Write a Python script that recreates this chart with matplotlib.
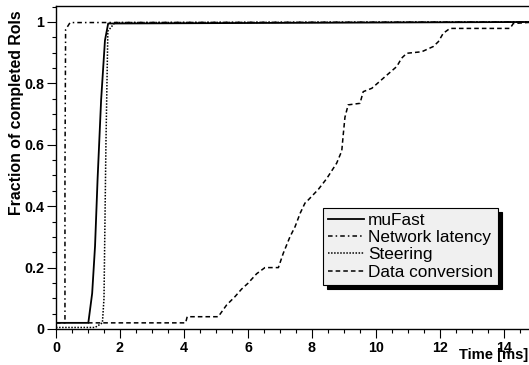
import matplotlib
matplotlib.use("Agg")
import matplotlib.pyplot as plt
from matplotlib.ticker import MultipleLocator, FixedFormatter, FixedLocator

plt.rcParams['font.family'] = ['Liberation Sans', 'DejaVu Sans']

# --- data ---
mufast_x = [0.0, 1.01, 1.13, 1.22, 1.30, 1.41, 1.53, 1.63, 15.0]
mufast_y = [0.02, 0.02, 0.116, 0.27, 0.49, 0.746, 0.94, 0.995, 1.0]

net_x = [0.0, 0.28, 0.28, 0.30, 0.44, 15.0]
net_y = [0.02, 0.02, 0.50, 0.975, 0.998, 1.0]

steer_x = [0.0, 1.22, 1.45, 1.50, 1.56, 1.62, 1.84, 15.0]
steer_y = [0.005, 0.005, 0.02, 0.10, 0.60, 0.97, 0.998, 1.0]

conv_x = [1.0, 4.05, 4.1, 5.07, 5.33, 5.59, 5.8, 6.0, 6.27, 6.53, 6.95, 7.1, 7.31,
          7.47, 7.63, 7.78, 7.88, 8.2, 8.46, 8.77, 8.93, 8.98, 9.03, 9.13, 9.5,
          9.6, 9.87, 10.23, 10.65, 10.8, 10.96, 11.43, 11.79, 11.95, 12.1, 12.31,
          14.19, 14.29, 15.0]
conv_y = [0.02, 0.02, 0.04, 0.04, 0.078, 0.105, 0.13, 0.149, 0.18, 0.20, 0.20, 0.246,
          0.30, 0.333, 0.377, 0.41, 0.42, 0.455, 0.49, 0.54, 0.58, 0.637, 0.69, 0.73,
          0.735, 0.773, 0.784, 0.817, 0.855, 0.882, 0.898, 0.903, 0.92, 0.936, 0.963,
          0.979, 0.979, 0.995, 1.0]

series_labels = ["muFast", "Network latency", "Steering", "Data conversion"]
x_ticks = [0, 2, 4, 6, 8, 10, 12, 14]
x_ticklabels = ["0", "2", "4", "6", "8", "10", "12", "14"]
y_ticks = [0, 0.2, 0.4, 0.6, 0.8, 1.0]
y_ticklabels = ["0", "0.2", "0.4", "0.6", "0.8", "1"]

W, H = 529, 365
fig = plt.figure(figsize=(W / 100, H / 100), dpi=100)
left, right, top, bottom = 56, 536, 6, 329
ax = fig.add_axes([left / W, (H - bottom) / H, (right - left) / W, (bottom - top) / H])
ax.set_xlim(0, 15)
ax.set_ylim(0, 1.052)

lw = 1.1
ax.plot(mufast_x, mufast_y, color='black', lw=1.3, ls='-', label=series_labels[0])
ax.plot(net_x, net_y, color='black', lw=lw, ls=(0, (3, 2, 1, 2)), label=series_labels[1])
ax.plot(steer_x, steer_y, color='black', lw=lw, ls=(0, (1, 1)), label=series_labels[2])
ax.plot(conv_x, conv_y, color='black', lw=lw, ls=(0, (3, 2)), label=series_labels[3])

for s in ['left', 'top', 'bottom']:
    ax.spines[s].set_linewidth(1.0)
ax.spines['right'].set_visible(False)

ax.xaxis.set_major_locator(FixedLocator(x_ticks))
ax.xaxis.set_major_formatter(FixedFormatter(x_ticklabels))
ax.xaxis.set_minor_locator(MultipleLocator(0.5))
ax.yaxis.set_major_locator(FixedLocator(y_ticks))
ax.yaxis.set_major_formatter(FixedFormatter(y_ticklabels))
ax.yaxis.set_minor_locator(MultipleLocator(0.05))
ax.tick_params(axis='both', which='major', direction='out', length=6.5, width=0.8,
               labelsize=10.3)
ax.tick_params(axis='both', which='minor', direction='out', length=3, width=0.8)
ax.tick_params(axis='x', which='major', pad=2)
ax.tick_params(axis='y', which='major', pad=2)
for lab in ax.get_xticklabels() + ax.get_yticklabels():
    lab.set_fontweight('bold')

fig.text(528 / W, (H - 359) / H, "Time [ms]", ha='right', va='baseline',
         fontsize=10.6, fontweight='bold')
fig.text(17 / W, (H - 10) / H, "Fraction of completed RoIs", ha='center', va='top',
         rotation=90, fontsize=11.4, fontweight='bold')

leg = ax.legend(loc='upper left', bbox_to_anchor=((323 - left) / 480, (bottom - 208) / 323),
                borderaxespad=0, fontsize=12.4, frameon=True, fancybox=False,
                shadow={'color': 'black', 'alpha': 1.0, 'ox': 3, 'oy': -3}, facecolor='#f0f0f0',
                edgecolor='black', framealpha=1.0, handlelength=2.1,
                handletextpad=0.2, borderpad=0.3, labelspacing=0.12)
leg.get_frame().set_linewidth(0.8)

fig.savefig("out.png", dpi=100)
